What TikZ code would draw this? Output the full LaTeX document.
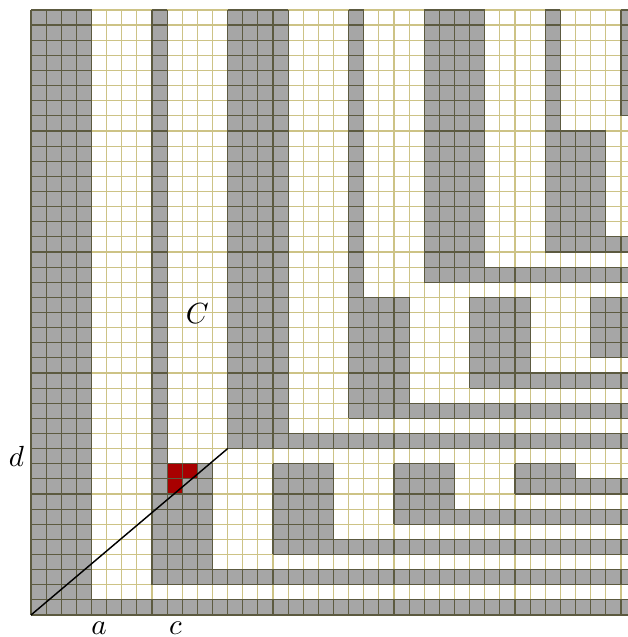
\documentclass[tikz,border=0pt]{standalone}
\usepackage{amsmath,amssymb}
\usepackage{xcolor}
\usepackage{tikz}
\usetikzlibrary{arrows.meta,positioning,calc}
\definecolor{gridOlive}{HTML}{CDC386}
\definecolor{cellGray}{HTML}{A6A6A6}
\definecolor{lineDark}{HTML}{5C5A40}
\definecolor{cellRed}{HTML}{A80000}

\begin{document}
\begin{tikzpicture}[x=2mm, y=2mm, font=\fontsize{11}{13}\selectfont,
    cellfill/.style={fill=cellGray},
    gridthin/.style={draw=gridOlive, line width=0.45pt},
    griddark/.style={draw=lineDark, line width=0.45pt}]
    \useasboundingbox (-2.05,-1.455) rectangle (39.42,40.66);
    \draw[gridthin, step=1] (0,0) grid (40,40);
    % gray blocks (lower left corner / upper right corner, in cells)
    \foreach \xa/\ya/\xb/\yb in {0/0/4/40, 4/0/40/1, 8/2/9/40, 9/2/12/10, 12/2/40/3,
        13/11/17/40, 17/11/40/12, 16/4/20/10, 20/4/40/5, 24/6/28/10, 28/6/40/7,
        32/8/36/10, 36/8/40/9, 21/13/22/40, 22/13/25/21, 25/13/40/14,
        29/15/33/21, 33/15/40/16, 37/17/40/21, 26/22/30/40, 30/22/40/23,
        34/24/38/32, 34/32/35/40, 38/24/40/25, 39/33/40/40} {
        \fill[cellfill] (\xa,\ya) rectangle (\xb,\yb);
    }
    \fill[cellRed] (9,8) rectangle (10,10) (10,9) rectangle (11,10);
    \foreach \xa/\ya/\xb/\yb in {0/0/4/40, 4/0/40/1, 8/2/9/40, 9/2/12/10, 12/2/40/3,
        13/11/17/40, 17/11/40/12, 16/4/20/10, 20/4/40/5, 24/6/28/10, 28/6/40/7,
        32/8/36/10, 36/8/40/9, 21/13/22/40, 22/13/25/21, 25/13/40/14,
        29/15/33/21, 33/15/40/16, 37/17/40/21, 26/22/30/40, 30/22/40/23,
        34/24/38/32, 34/32/35/40, 38/24/40/25, 39/33/40/40} {
        \draw[griddark, step=1] (\xa,\ya) grid (\xb,\yb);
    }
    \coordinate (corner) at (0,0);
    \coordinate (tip) at (13,11);
    \draw[line width=0.55pt] (corner) -- (tip);
    \node[anchor=base] (la) at (4.5,-1.3) {$a$};
    \node[anchor=base] (lc) at (9.55,-1.3) {$c$};
    \node[anchor=base] (ld) at (-0.97,9.81) {$d$};
    \node[anchor=base] (lC) at (11.0,19.29) {$C$};
\end{tikzpicture}
\end{document}
